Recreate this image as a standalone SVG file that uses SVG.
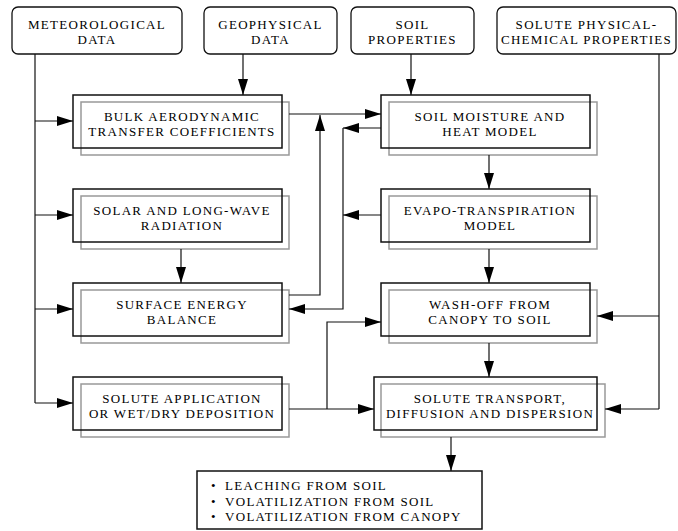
<svg xmlns="http://www.w3.org/2000/svg" width="678" height="531" viewBox="0 0 678 531">
<defs>
<marker id="ah" markerUnits="userSpaceOnUse" markerWidth="17" markerHeight="11" refX="16" refY="5" orient="auto">
<path d="M0,0 L16,5 L0,10 z" fill="#000"/>
</marker>
<style>
text{font-family:'Liberation Serif','Times New Roman',serif;font-size:13px;letter-spacing:1.3px;fill:#000;text-anchor:middle}
.src{fill:#fff;stroke:#111;stroke-width:1.3}
.main{fill:none;stroke:#111;stroke-width:1.5}
.sh{fill:none;stroke:#999;stroke-width:1.5}
.c{fill:none;stroke:#111;stroke-width:1.2}
.a{marker-end:url(#ah)}
.lst{text-anchor:start}
</style>
</defs>
<rect width="678" height="531" fill="#fff"/>

<g id="meteorological">
<rect class="src" x="12" y="7" width="170" height="47" rx="6"/>
<text x="97" y="29">METEOROLOGICAL</text>
<text x="97" y="44">DATA</text>
</g>
<g id="geophysical">
<rect class="src" x="204" y="7" width="133" height="47" rx="6"/>
<text x="270.5" y="29">GEOPHYSICAL</text>
<text x="270.5" y="44">DATA</text>
</g>
<g id="soilprops">
<rect class="src" x="351" y="7" width="123" height="47" rx="6"/>
<text x="412.5" y="29">SOIL</text>
<text x="412.5" y="44">PROPERTIES</text>
</g>
<g id="solutepc">
<rect class="src" x="497" y="7" width="179" height="47" rx="6"/>
<text x="586.5" y="29">SOLUTE PHYSICAL-</text>
<text x="586.5" y="44">CHEMICAL PROPERTIES</text>
</g>

<g id="bulk">
<rect class="sh" x="81" y="102" width="208" height="53"/>
<rect class="main" x="73" y="95" width="209" height="53"/>
<text x="182" y="121">BULK AERODYNAMIC</text>
<text x="182" y="136">TRANSFER COEFFICIENTS</text>
</g>
<g id="solar">
<rect class="sh" x="81" y="196" width="208" height="53"/>
<rect class="main" x="73" y="189" width="209" height="53"/>
<text x="182" y="215">SOLAR AND LONG-WAVE</text>
<text x="182" y="230">RADIATION</text>
</g>
<g id="surface">
<rect class="sh" x="81" y="290" width="208" height="53"/>
<rect class="main" x="73" y="283" width="209" height="53"/>
<text x="182" y="309">SURFACE ENERGY</text>
<text x="182" y="324">BALANCE</text>
</g>
<g id="application">
<rect class="sh" x="81" y="384" width="208" height="53"/>
<rect class="main" x="73" y="377" width="209" height="53"/>
<text x="182" y="403">SOLUTE APPLICATION</text>
<text x="182" y="418">OR WET/DRY DEPOSITION</text>
</g>

<g id="soilmoisture">
<rect class="sh" x="389" y="102" width="208" height="53"/>
<rect class="main" x="381" y="95" width="209" height="53"/>
<text x="490" y="121">SOIL MOISTURE AND</text>
<text x="490" y="136">HEAT MODEL</text>
</g>
<g id="evapo">
<rect class="sh" x="389" y="196" width="208" height="53"/>
<rect class="main" x="381" y="189" width="209" height="53"/>
<text x="490" y="215">EVAPO-TRANSPIRATION</text>
<text x="490" y="230">MODEL</text>
</g>
<g id="washoff">
<rect class="sh" x="389" y="290" width="208" height="53"/>
<rect class="main" x="381" y="283" width="209" height="53"/>
<text x="490" y="309">WASH-OFF FROM</text>
<text x="490" y="324">CANOPY TO SOIL</text>
</g>
<g id="transport">
<rect class="sh" x="381" y="384" width="224" height="53"/>
<rect class="main" x="374" y="377" width="223" height="53"/>
<text x="490" y="403">SOLUTE TRANSPORT,</text>
<text x="490" y="418">DIFFUSION AND DISPERSION</text>
</g>

<g id="outputs">
<rect class="main" x="197" y="471" width="285" height="58"/>
<text class="lst" x="211" y="490">•</text>
<text class="lst" x="225" y="490">LEACHING FROM SOIL</text>
<text class="lst" x="211" y="505.5">•</text>
<text class="lst" x="225" y="505.5">VOLATILIZATION FROM SOIL</text>
<text class="lst" x="211" y="521">•</text>
<text class="lst" x="225" y="521">VOLATILIZATION FROM CANOPY</text>
</g>

<g id="connectors">
<path class="c" d="M35,54 V403"/>
<path class="c a" d="M35,121 H73"/>
<path class="c a" d="M35,215 H73"/>
<path class="c a" d="M35,309 H73"/>
<path class="c a" d="M35,403 H73"/>
<path class="c a" d="M243,54 V95"/>
<path class="c a" d="M411,54 V95"/>
<path class="c" d="M659,54 V409"/>
<path class="c a" d="M659,316 H597"/>
<path class="c a" d="M659,409 H605"/>
<path class="c a" d="M289,114 H381"/>
<path class="c a" d="M289,295 H320 V115"/>
<path class="c a" d="M381,128 H343"/>
<path class="c a" d="M343,128 V309 H289"/>
<path class="c a" d="M381,215 H343"/>
<path class="c a" d="M289,409 H374"/>
<path class="c a" d="M327,409 V322 H381"/>
<path class="c a" d="M181,249 V283"/>
<path class="c a" d="M489,155 V189"/>
<path class="c a" d="M489,249 V283"/>
<path class="c a" d="M489,343 V377"/>
<path class="c a" d="M451,437 V471"/>
</g>
</svg>
